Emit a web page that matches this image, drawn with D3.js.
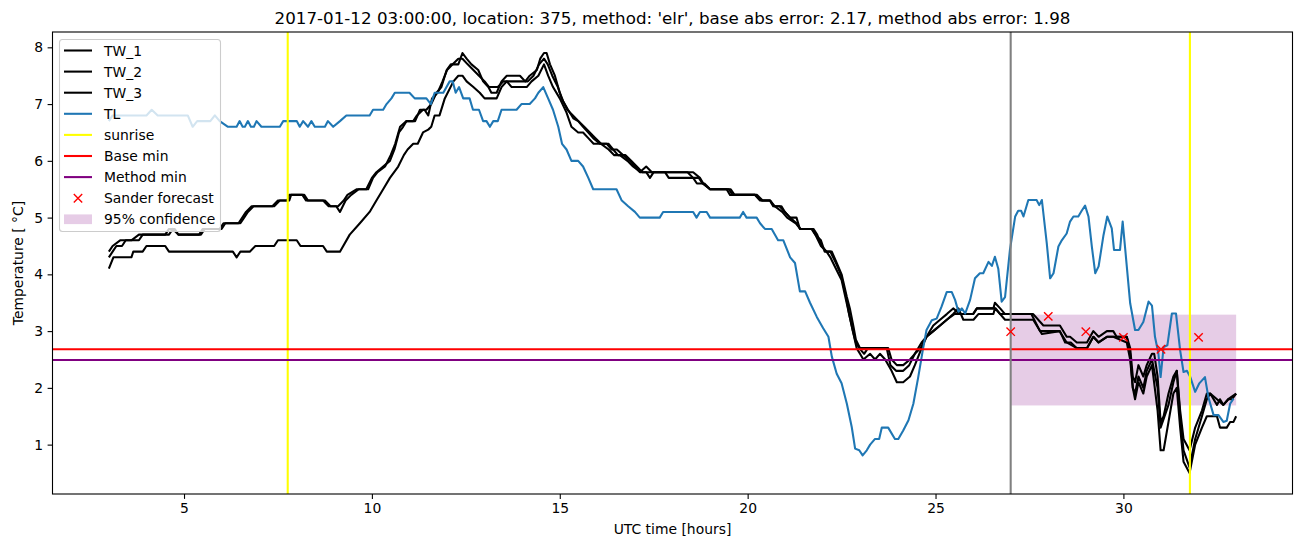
<!DOCTYPE html>
<html><head><meta charset="utf-8">
<script src="https://cdn.jsdelivr.net/npm/d3@7"></script>
<style>body{margin:0;background:#fff} text{font-family:"DejaVu Sans",sans-serif;fill:#000}</style>
</head><body><svg id="chart" width="1302" height="547"></svg>
<script>
const titleText = "2017-01-12 03:00:00, location: 375, method: 'elr', base abs error: 2.17, method abs error: 1.98";
const xLabel = "UTC time [hours]";
const yLabel = "Temperature [ \u00B0C]";
const xTicks = [5, 10, 15, 20, 25, 30];
const yTicks = [1, 2, 3, 4, 5, 6, 7, 8];
const seriesNames = ["TW_1", "TW_2", "TW_3", "TL"];
const sunriseTimes = [7.76, 31.77];
const forecastStart = 27;
const baseMin = 2.68;
const methodMin = 2.49;
const confTime = [27, 33];
const confLow = 1.69;
const confHigh = 3.29;
const sanderTime = [27, 28, 29, 30, 31, 32];
const sanderTemp = [2.99, 3.26, 2.99, 2.89, 2.68, 2.89];

const tw1 = [[3.0,4.4],[3.1,4.5],[3.3,4.6],[3.6,4.6],[3.8,4.7],[4.5,4.7],[4.6,4.8],[4.75,4.8],[4.85,4.7],[5.4,4.7],[5.5,4.8],[5.95,4.8],[6.05,4.9],[6.45,4.9],[6.55,5.0],[6.65,5.1],[6.8,5.2],[7.35,5.2],[7.5,5.3],[7.75,5.3],[7.8,5.4],[8.15,5.4],[8.25,5.3],[8.7,5.3],[8.85,5.2],[9.1,5.2],[9.25,5.3],[9.35,5.4],[9.6,5.5],[9.85,5.5],[10.0,5.7],[10.12,5.8],[10.3,5.9],[10.48,6.0],[10.6,6.2],[10.72,6.5],[10.83,6.6],[10.92,6.7],[11.1,6.7],[11.2,6.8],[11.36,6.9],[11.45,6.9],[11.58,7.0],[11.72,7.2],[11.85,7.3],[11.99,7.6],[12.1,7.7],[12.3,7.7],[12.41,7.9],[12.52,7.8],[12.65,7.7],[12.83,7.6],[12.96,7.4],[13.1,7.3],[13.18,7.2],[13.32,7.2],[13.45,7.4],[13.59,7.5],[13.94,7.5],[14.08,7.4],[14.2,7.5],[14.39,7.6],[14.48,7.8],[14.58,7.9],[14.65,7.9],[14.74,7.7],[14.87,7.5],[15.0,7.2],[15.09,7.05],[15.22,6.9],[15.36,6.75],[15.49,6.7],[15.62,6.6],[15.76,6.5],[15.89,6.4],[16.07,6.3],[16.25,6.3],[16.38,6.2],[16.52,6.2],[16.69,6.1],[16.87,6.0],[17.0,5.9],[17.13,5.8],[17.3,5.9],[17.45,5.8],[18.55,5.8],[18.73,5.7],[18.82,5.6],[19.0,5.5],[19.44,5.5],[19.53,5.4],[20.19,5.4],[20.33,5.3],[20.59,5.3],[20.68,5.2],[20.9,5.2],[20.99,5.1],[21.13,5.0],[21.3,5.0],[21.39,4.8],[21.75,4.8],[21.85,4.7],[21.97,4.5],[22.1,4.4],[22.24,4.4],[22.37,4.2],[22.5,4.0],[22.64,3.6],[22.72,3.4],[22.81,3.1],[22.88,2.85],[22.99,2.7],[23.74,2.7],[23.83,2.5],[23.97,2.4],[24.14,2.4],[24.32,2.5],[24.45,2.6],[24.63,2.8],[24.76,2.9],[24.94,3.1],[25.12,3.2],[25.3,3.3],[25.47,3.4],[25.65,3.3],[26.0,3.3],[26.1,3.4],[26.54,3.4],[26.58,3.5],[26.72,3.4],[26.85,3.3],[27.52,3.3],[27.6,3.3],[27.87,3.1],[28.31,3.1],[28.49,2.9],[28.58,2.9],[28.76,2.8],[29.03,2.8],[29.2,3.0],[29.34,2.9],[29.56,3.0],[29.73,3.0],[29.82,2.9],[30.09,2.9],[30.18,2.7],[30.25,2.2],[30.31,2.1],[30.4,2.4],[30.53,2.2],[30.62,2.4],[30.76,2.6],[30.82,2.6],[30.91,2.2],[30.99,1.4],[31.07,1.5],[31.2,1.9],[31.33,2.2],[31.42,2.3],[31.51,1.6],[31.6,1.1],[31.76,0.9],[31.91,1.3],[32.09,1.6],[32.22,1.9],[32.31,1.9],[32.49,1.7],[32.57,1.8],[32.66,1.7],[32.79,1.8],[32.89,1.8],[33.0,1.9]];

const tw2 = [[3.0,4.3],[3.1,4.4],[3.2,4.5],[3.35,4.5],[3.45,4.6],[3.8,4.6],[3.9,4.7],[4.6,4.7],[4.7,4.8],[4.85,4.7],[5.45,4.7],[5.55,4.8],[6.0,4.8],[6.1,4.9],[6.5,4.9],[6.6,5.0],[6.7,5.1],[6.85,5.2],[7.4,5.2],[7.55,5.3],[7.8,5.3],[7.85,5.4],[8.2,5.4],[8.3,5.3],[8.75,5.3],[8.9,5.2],[9.05,5.2],[9.15,5.1],[9.3,5.3],[9.45,5.4],[9.65,5.5],[9.9,5.5],[10.03,5.7],[10.15,5.8],[10.35,5.9],[10.5,6.1],[10.62,6.3],[10.75,6.6],[10.92,6.7],[11.15,6.7],[11.28,6.9],[11.4,6.9],[11.5,6.8],[11.6,7.1],[11.75,7.2],[11.88,7.4],[12.0,7.6],[12.15,7.7],[12.3,7.8],[12.41,7.8],[12.55,7.7],[12.7,7.6],[12.85,7.5],[13.0,7.4],[13.12,7.3],[13.35,7.3],[13.5,7.4],[13.7,7.4],[14.0,7.4],[14.15,7.4],[14.3,7.5],[14.45,7.7],[14.58,7.8],[14.68,7.7],[14.8,7.5],[14.95,7.3],[15.05,7.1],[15.2,6.9],[15.35,6.8],[15.5,6.7],[15.65,6.6],[15.8,6.5],[15.95,6.4],[16.1,6.3],[16.3,6.3],[16.42,6.2],[16.55,6.1],[16.75,6.1],[16.9,6.0],[17.05,5.9],[17.2,5.8],[17.8,5.8],[17.9,5.7],[18.55,5.7],[18.65,5.6],[18.85,5.6],[19.0,5.5],[19.5,5.5],[19.6,5.4],[20.2,5.4],[20.37,5.3],[20.6,5.3],[20.72,5.2],[20.92,5.1],[21.05,5.0],[21.28,4.9],[21.4,4.8],[21.7,4.8],[21.8,4.7],[21.95,4.6],[22.05,4.4],[22.2,4.4],[22.35,4.2],[22.48,4.0],[22.62,3.6],[22.7,3.3],[22.8,3.0],[22.88,2.8],[22.97,2.7],[23.1,2.6],[23.2,2.7],[23.7,2.7],[23.8,2.4],[23.95,2.3],[24.14,2.3],[24.3,2.4],[24.45,2.6],[24.6,2.7],[24.76,2.9],[24.94,3.0],[25.12,3.1],[25.3,3.2],[25.5,3.3],[25.65,3.3],[26.0,3.3],[26.1,3.4],[26.5,3.4],[26.6,3.4],[26.72,3.3],[27.55,3.3],[27.78,3.0],[28.31,3.0],[28.45,2.8],[28.6,2.8],[28.76,2.7],[29.03,2.7],[29.2,2.9],[29.34,2.8],[29.56,2.9],[29.73,2.9],[29.82,2.9],[30.09,2.9],[30.18,2.6],[30.25,2.0],[30.31,1.9],[30.4,2.2],[30.53,2.0],[30.62,2.3],[30.76,2.5],[30.91,2.0],[30.99,1.3],[31.2,1.7],[31.33,2.1],[31.42,2.3],[31.51,1.5],[31.6,0.9],[31.76,0.6],[31.91,1.1],[32.09,1.5],[32.22,1.8],[32.31,1.9],[32.49,1.8],[32.66,1.7],[32.79,1.8],[33.0,1.9]];

const tw3 = [[3.0,4.1],[3.12,4.3],[3.6,4.3],[3.65,4.4],[3.9,4.4],[4.0,4.5],[4.5,4.5],[4.6,4.4],[6.3,4.4],[6.4,4.3],[6.5,4.4],[6.75,4.4],[6.9,4.5],[7.4,4.5],[7.5,4.6],[8.0,4.6],[8.1,4.5],[8.7,4.5],[8.8,4.4],[9.15,4.4],[9.41,4.7],[9.68,4.9],[9.94,5.1],[10.12,5.3],[10.3,5.5],[10.48,5.7],[10.7,5.9],[10.85,6.1],[10.95,6.2],[11.1,6.3],[11.22,6.3],[11.36,6.5],[11.5,6.55],[11.58,6.6],[11.67,6.8],[11.8,6.8],[11.94,7.1],[12.17,7.4],[12.3,7.5],[12.41,7.5],[12.52,7.4],[12.7,7.3],[12.87,7.2],[13.0,7.1],[13.32,7.1],[13.45,7.3],[13.59,7.4],[13.72,7.3],[14.12,7.3],[14.25,7.4],[14.43,7.5],[14.58,7.7],[14.69,7.5],[14.82,7.3],[15.0,7.1],[15.18,6.85],[15.31,6.6],[15.49,6.5],[15.62,6.5],[15.76,6.4],[15.9,6.3],[16.1,6.3],[16.3,6.2],[16.45,6.1],[16.6,6.1],[16.8,6.0],[16.95,5.9],[17.15,5.8],[17.3,5.8],[17.4,5.7],[17.5,5.8],[18.4,5.8],[18.55,5.7],[18.7,5.7],[18.8,5.6],[19.0,5.5],[19.55,5.5],[19.65,5.4],[20.25,5.4],[20.4,5.3],[20.6,5.3],[20.7,5.2],[20.85,5.2],[20.99,5.1],[21.13,5.0],[21.3,4.9],[21.4,4.8],[21.72,4.8],[21.8,4.7],[21.95,4.5],[22.1,4.4],[22.2,4.3],[22.35,4.1],[22.5,3.9],[22.6,3.6],[22.7,3.3],[22.8,3.0],[22.9,2.7],[22.99,2.6],[23.08,2.5],[23.26,2.6],[23.39,2.5],[23.52,2.6],[23.66,2.5],[23.83,2.3],[23.97,2.1],[24.14,2.1],[24.32,2.2],[24.45,2.4],[24.63,2.7],[24.76,2.9],[24.94,3.0],[25.12,3.1],[25.3,3.2],[25.47,3.3],[25.61,3.4],[25.74,3.2],[26.01,3.2],[26.14,3.3],[26.54,3.3],[26.58,3.4],[26.72,3.3],[26.85,3.2],[27.6,3.2],[27.83,2.95],[28.3,3.0],[28.49,2.8],[28.76,2.7],[29.03,2.7],[29.2,2.9],[29.34,2.8],[29.56,2.9],[29.73,2.9],[30.09,2.8],[30.18,2.5],[30.25,2.0],[30.31,1.8],[30.4,2.1],[30.53,1.9],[30.62,2.2],[30.76,2.4],[30.91,1.6],[30.99,0.9],[31.07,0.9],[31.2,1.4],[31.33,1.9],[31.42,2.0],[31.51,1.3],[31.6,0.7],[31.76,0.5],[31.91,1.0],[32.09,1.3],[32.22,1.5],[32.49,1.5],[32.57,1.3],[32.75,1.3],[32.84,1.4],[32.93,1.4],[33.0,1.5]];

const tl = [[3.0,6.7],[3.1,6.8],[4.0,6.8],[4.14,6.9],[4.3,6.8],[5.1,6.8],[5.23,6.6],[5.35,6.7],[5.7,6.7],[5.82,6.8],[5.95,6.7],[6.17,6.6],[6.4,6.6],[6.48,6.7],[6.56,6.6],[6.62,6.6],[6.7,6.7],[6.78,6.6],[6.86,6.6],[6.93,6.7],[7.06,6.6],[7.55,6.6],[7.64,6.7],[8.0,6.7],[8.08,6.6],[8.17,6.7],[8.3,6.6],[8.39,6.7],[8.48,6.6],[8.75,6.6],[8.83,6.7],[8.97,6.6],[9.15,6.7],[9.32,6.8],[9.94,6.8],[10.03,6.9],[10.3,6.9],[10.39,7.0],[10.52,7.1],[10.61,7.2],[11.0,7.2],[11.14,7.1],[11.45,7.1],[11.57,7.0],[11.67,7.2],[11.9,7.2],[12.07,7.4],[12.15,7.4],[12.23,7.2],[12.32,7.3],[12.43,7.1],[12.6,7.1],[12.69,6.9],[12.85,6.9],[12.96,6.7],[13.05,6.7],[13.14,6.6],[13.23,6.7],[13.35,6.7],[13.45,6.9],[13.85,6.9],[13.98,7.0],[14.2,7.0],[14.34,7.1],[14.43,7.2],[14.56,7.3],[14.69,7.1],[14.82,6.9],[14.96,6.6],[15.06,6.3],[15.18,6.2],[15.31,6.0],[15.49,6.0],[15.62,5.9],[15.76,5.7],[15.89,5.5],[16.51,5.5],[16.65,5.3],[16.82,5.2],[17.0,5.1],[17.13,5.0],[17.66,5.0],[17.75,5.1],[18.55,5.1],[18.64,5.0],[18.73,5.1],[18.91,5.1],[19.0,5.0],[19.79,5.0],[19.88,5.1],[19.97,5.0],[20.24,5.0],[20.33,4.9],[20.46,4.8],[20.64,4.8],[20.81,4.6],[20.95,4.6],[21.13,4.3],[21.26,4.2],[21.39,3.7],[21.53,3.7],[21.66,3.5],[21.84,3.25],[22.01,3.05],[22.15,2.9],[22.24,2.55],[22.37,2.25],[22.5,2.08],[22.64,1.72],[22.77,1.31],[22.86,0.93],[22.97,0.9],[23.06,0.81],[23.17,0.9],[23.26,1.0],[23.39,1.1],[23.5,1.1],[23.57,1.3],[23.74,1.3],[23.92,1.1],[24.01,1.1],[24.14,1.25],[24.28,1.43],[24.41,1.72],[24.54,2.19],[24.66,2.66],[24.76,3.02],[24.9,3.19],[25.03,3.22],[25.16,3.43],[25.3,3.69],[25.43,3.69],[25.52,3.55],[25.61,3.34],[25.7,3.4],[25.79,3.31],[25.92,3.55],[26.05,3.93],[26.18,4.02],[26.27,4.02],[26.41,4.22],[26.5,4.15],[26.58,4.31],[26.67,4.1],[26.76,3.52],[26.85,3.6],[26.98,4.43],[27.12,5.02],[27.2,5.12],[27.28,5.12],[27.34,5.02],[27.47,5.31],[27.69,5.31],[27.76,5.22],[27.83,5.31],[27.96,4.55],[28.05,3.93],[28.14,4.02],[28.27,4.49],[28.36,4.6],[28.49,4.72],[28.58,4.93],[28.67,5.02],[28.8,5.02],[28.89,5.12],[28.98,5.21],[29.07,5.02],[29.16,4.49],[29.25,4.02],[29.34,4.14],[29.47,4.69],[29.57,5.02],[29.69,4.81],[29.75,4.43],[29.91,4.43],[29.98,4.93],[30.05,4.43],[30.18,3.49],[30.31,3.02],[30.4,3.02],[30.53,3.16],[30.67,3.52],[30.76,3.45],[30.84,2.9],[30.93,2.61],[30.99,2.19],[31.07,2.72],[31.17,2.75],[31.29,3.31],[31.4,3.31],[31.51,2.66],[31.6,2.28],[31.69,2.3],[31.78,2.19],[31.91,1.93],[32.02,2.08],[32.17,2.19],[32.26,1.84],[32.4,1.52],[32.53,1.52],[32.66,1.4],[32.75,1.42],[32.84,1.72],[32.93,1.81]];

const seriesData = [tw1, tw2, tw3, tl];
const seriesColors = ["#000000", "#000000", "#000000", "#1f77b4"];

const W = 1302, H = 547;
const M = {left: 52.5, right: 1292.5, top: 32, bottom: 494};
const svg = d3.select("#chart");

const allVals = seriesData.flat().map(d => d[1]);
const yMin = d3.min(allVals), yMax = d3.max(allVals);
const yPad = (yMax - yMin) * 0.05;
const x = d3.scaleLinear().domain([1.5, 34.5]).range([M.left, M.right]);
const y = d3.scaleLinear().domain([yMin - yPad, yMax + yPad]).range([M.bottom, M.top]);

svg.append("defs").append("clipPath").attr("id", "clip")
  .append("rect").attr("x", M.left).attr("y", M.top)
  .attr("width", M.right - M.left).attr("height", M.bottom - M.top);

const plot = svg.append("g").attr("clip-path", "url(#clip)");
const LW = 2.08;

// confidence band (zorder below lines)
plot.append("rect")
  .attr("x", x(confTime[0])).attr("y", y(confHigh))
  .attr("width", x(confTime[1]) - x(confTime[0]))
  .attr("height", y(confLow) - y(confHigh))
  .attr("fill", "#800080").attr("fill-opacity", 0.2);

const line = d3.line().x(d => x(d[0])).y(d => y(d[1]));
seriesData.forEach((s, i) => {
  plot.append("path").datum(s).attr("d", line)
    .attr("fill", "none").attr("stroke", seriesColors[i])
    .attr("stroke-width", LW).attr("stroke-linejoin", "round").attr("stroke-linecap", "butt");
});

sunriseTimes.forEach(t => {
  plot.append("line").attr("x1", x(t)).attr("x2", x(t)).attr("y1", M.top).attr("y2", M.bottom)
    .attr("stroke", "#ffff00").attr("stroke-width", LW);
});
plot.append("line").attr("x1", M.left).attr("x2", M.right).attr("y1", y(baseMin)).attr("y2", y(baseMin))
  .attr("stroke", "#ff0000").attr("stroke-width", LW);
plot.append("line").attr("x1", M.left).attr("x2", M.right).attr("y1", y(methodMin)).attr("y2", y(methodMin))
  .attr("stroke", "#800080").attr("stroke-width", LW);
plot.append("line").attr("x1", x(forecastStart)).attr("x2", x(forecastStart)).attr("y1", M.top).attr("y2", M.bottom)
  .attr("stroke", "#808080").attr("stroke-width", LW);

const ms = 4.2;
function cross(g, cx, cy) {
  g.append("path").attr("d", `M${cx-ms},${cy-ms}L${cx+ms},${cy+ms}M${cx-ms},${cy+ms}L${cx+ms},${cy-ms}`)
    .attr("stroke", "#ff0000").attr("stroke-width", 1.4).attr("fill", "none");
}
sanderTime.forEach((t, i) => cross(plot, x(t), y(sanderTemp[i])));

// axes
const fs = 13.9;
const xAxis = svg.append("g").attr("transform", `translate(0,${M.bottom})`)
  .call(d3.axisBottom(x).tickValues(xTicks).tickSize(4.9).tickPadding(4.5).tickFormat(d3.format("d")));
const yAxis = svg.append("g").attr("transform", `translate(${M.left},0)`)
  .call(d3.axisLeft(y).tickValues(yTicks).tickSize(4.9).tickPadding(4.5).tickFormat(d3.format("d")));
[xAxis, yAxis].forEach(a => {
  a.select(".domain").remove();
  a.selectAll("line").attr("stroke", "#000").attr("stroke-width", 1.1);
  a.selectAll("text").attr("font-size", fs).attr("font-family", "DejaVu Sans").attr("fill", "#000");
});
svg.append("rect").attr("x", M.left).attr("y", M.top).attr("width", M.right - M.left).attr("height", M.bottom - M.top)
  .attr("fill", "none").attr("stroke", "#000").attr("stroke-width", 1.1);

svg.append("text").attr("x", (M.left + M.right) / 2).attr("y", 24).attr("text-anchor", "middle")
  .attr("font-size", 16.7).text(titleText);
svg.append("text").attr("x", (M.left + M.right) / 2).attr("y", 534).attr("text-anchor", "middle")
  .attr("font-size", fs).text(xLabel);
svg.append("text").attr("transform", `translate(23,${(M.top + M.bottom) / 2}) rotate(-90)`).attr("text-anchor", "middle")
  .attr("font-size", fs).text(yLabel);

// legend
const legendItems = [
  {label: seriesNames[0], type: "line", color: seriesColors[0]},
  {label: seriesNames[1], type: "line", color: seriesColors[1]},
  {label: seriesNames[2], type: "line", color: seriesColors[2]},
  {label: seriesNames[3], type: "line", color: seriesColors[3]},
  {label: "sunrise", type: "line", color: "#ffff00"},
  {label: "Base min", type: "line", color: "#ff0000"},
  {label: "Method min", type: "line", color: "#800080"},
  {label: "Sander forecast", type: "marker", color: "#ff0000"},
  {label: "95% confidence", type: "patch", color: "#800080"}
];
const lg = svg.append("g");
lg.append("rect").attr("x", 59.5).attr("y", 39.5).attr("width", 161).attr("height", 192).attr("rx", 3)
  .attr("fill", "#fff").attr("fill-opacity", 0.8).attr("stroke", "#cccccc").attr("stroke-width", 1.1);
legendItems.forEach((it, i) => {
  const cy = 50.5 + i * 21.1;
  if (it.type === "line") {
    lg.append("line").attr("x1", 64).attr("x2", 92).attr("y1", cy).attr("y2", cy)
      .attr("stroke", it.color).attr("stroke-width", LW);
  } else if (it.type === "marker") {
    cross(lg, 78, cy);
  } else {
    lg.append("rect").attr("x", 64).attr("y", cy - 4.9).attr("width", 28).attr("height", 9.7)
      .attr("fill", it.color).attr("fill-opacity", 0.2);
  }
  lg.append("text").attr("x", 104).attr("y", cy + 5).attr("font-size", fs).text(it.label);
});
</script></body></html>
